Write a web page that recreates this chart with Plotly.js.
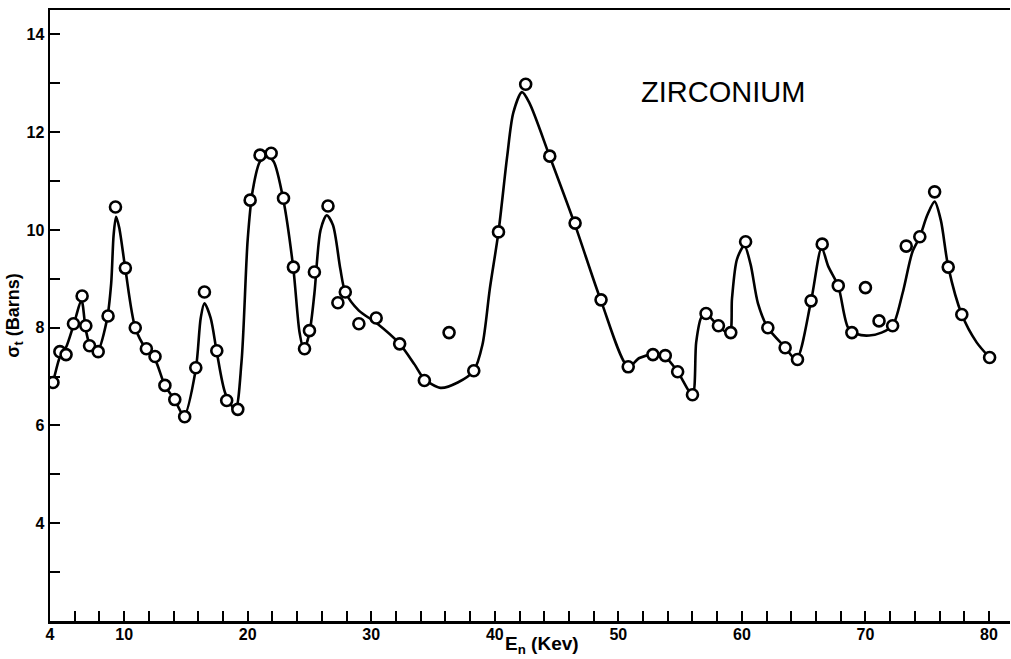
<!DOCTYPE html>
<html>
<head>
<meta charset="utf-8">
<script src="https://cdn.plot.ly/plotly-3.0.1.min.js"></script>
<style>
html,body{margin:0;padding:0;background:#fff;}
#chart{width:1011px;height:659px;}
</style>
</head>
<body>
<div id="chart"></div>
<script>
// Measured points: neutron energy (keV) and total cross section (barns)
var energy = [4.24,4.8,5.3,5.9,6.6,6.9,7.2,7.9,8.7,9.3,10.1,10.9,11.8,12.5,13.3,14.1,14.9,15.8,16.5,17.5,18.3,19.2,20.2,21.0,21.9,22.9,23.7,24.6,25.0,25.4,26.5,27.3,27.9,29.0,30.4,32.3,34.3,36.3,38.3,40.3,42.5,44.45,46.5,48.6,50.8,52.8,53.8,54.8,56.0,57.1,58.1,59.1,60.3,62.1,63.5,64.5,65.6,66.5,67.8,68.9,70.0,71.1,72.2,73.3,74.4,75.6,76.7,77.8,80.05];
var sigma = [6.88,7.51,7.45,8.08,8.65,8.04,7.63,7.51,8.24,10.47,9.22,8.0,7.57,7.41,6.82,6.53,6.18,7.18,8.73,7.53,6.51,6.33,10.61,11.53,11.57,10.65,9.24,7.57,7.94,9.14,10.49,8.51,8.73,8.08,8.2,7.67,6.92,7.90,7.12,9.96,12.98,11.51,10.14,8.57,7.20,7.45,7.43,7.10,6.63,8.29,8.04,7.90,9.76,8.0,7.59,7.35,8.55,9.71,8.86,7.90,8.82,8.14,8.04,9.67,9.86,10.78,9.24,8.27,7.39];

// Hand-drawn smooth curve
var curveEnergy = [4.05,4.24,4.8,5.3,5.9,6.55,6.9,7.3,7.8,8.6,8.95,9.15,9.35,9.6,10.1,10.9,11.8,12.5,13.3,14.1,14.85,15.8,16.2,16.5,17.0,17.5,18.2,19.0,19.5,20.0,20.4,21.0,21.6,22.1,22.9,23.7,24.2,24.55,25.0,25.4,25.9,26.4,26.9,27.5,27.9,29.0,30.4,32.3,33.5,34.3,35.6,37.0,38.3,39.0,39.6,40.3,41.0,41.5,42.2,42.8,44.45,46.5,48.6,50.8,51.7,52.8,53.8,54.8,56.0,56.3,56.7,57.1,58.1,59.0,59.2,59.6,60.2,60.7,61.3,62.1,63.5,64.4,65.6,66.45,67.0,67.8,68.6,69.3,70.3,71.3,72.2,73.0,73.8,74.4,75.0,75.6,76.1,76.7,77.8,79.0,80.05];
var curveSigma = [6.8,6.9,7.4,7.6,8.05,8.55,7.95,7.6,7.5,8.15,8.9,9.9,10.27,10.05,9.2,8.0,7.55,7.35,6.82,6.52,6.2,7.15,8.2,8.5,8.2,7.5,6.65,6.33,7.3,9.8,10.8,11.4,11.5,11.4,10.6,9.2,7.9,7.55,7.9,8.7,10.0,10.3,10.1,9.2,8.73,8.35,8.1,7.67,7.25,6.95,6.77,6.88,7.12,7.65,8.8,9.96,11.5,12.4,12.82,12.6,11.5,10.1,8.55,7.2,7.38,7.45,7.4,7.1,6.63,7.7,8.2,8.28,8.03,7.88,8.6,9.4,9.68,9.3,8.5,8.0,7.6,7.35,8.55,9.63,9.25,8.85,8.0,7.87,7.84,7.9,8.04,8.7,9.55,9.86,10.3,10.58,10.2,9.25,8.27,7.7,7.39];

var xTickVals = [4,10,20,30,40,50,60,70,80];
var xTickText = ["4","10","20","30","40","50","60","70","80"];
var yTickVals = [4,6,8,10,12,14];
var yTickText = ["4","6","8","10","12","14"];
var chartLabel = "ZIRCONIUM";
var xTitle = "E<sub>n</sub> (Kev)";
var yTitle = "σ<sub>t</sub> (Barns)";

var traces = [
  {
    x: curveEnergy, y: curveSigma, type: "scatter", mode: "lines",
    line: {color: "#000", width: 2.6, shape: "spline", smoothing: 0.8},
    hoverinfo: "skip", showlegend: false
  },
  {
    x: energy, y: sigma, type: "scatter", mode: "markers",
    marker: {symbol: "circle", size: 11, color: "#fff", line: {color: "#000", width: 2.6}},
    showlegend: false
  }
];

var fam = "Liberation Sans, Arial, sans-serif";
var tickFont = {family: fam, size: 16, color: "#000", weight: "bold"};

var layout = {
  width: 1011, height: 659,
  paper_bgcolor: "#fff", plot_bgcolor: "#fff",
  margin: {l: 50, r: 1, t: 10, b: 38},
  showlegend: false,
  xaxis: {
    range: [4, 81.7], showgrid: false, zeroline: false,
    showline: true, linecolor: "#000", linewidth: 2.5, mirror: true,
    tickmode: "array", tickvals: xTickVals, ticktext: xTickText,
    ticks: "inside", ticklen: 10, tickwidth: 2, tickcolor: "#000",
    minor: {dtick: 2, tick0: 0, ticks: "inside", ticklen: 10, tickwidth: 2, tickcolor: "#000", showgrid: false},
    tickfont: tickFont, ticklabelstandoff: -3,
    automargin: false
  },
  yaxis: {
    range: [2, 14.5], showgrid: false, zeroline: false,
    showline: true, linecolor: "#000", linewidth: 2.5, mirror: false,
    tickmode: "array", tickvals: yTickVals, ticktext: yTickText,
    ticks: "inside", ticklen: 10, tickwidth: 2, tickcolor: "#000",
    minor: {dtick: 1, tick0: 0, ticks: "inside", ticklen: 10, tickwidth: 2, tickcolor: "#000", showgrid: false},
    tickfont: tickFont, ticklabelstandoff: 0,
    title: {text: yTitle, font: {family: fam, size: 18, color: "#000", weight: "bold"}, standoff: 2},
    automargin: false
  },
  annotations: [
    {text: chartLabel, xref: "x", yref: "y", x: 58.5, y: 12.82, xanchor: "center", yanchor: "middle", showarrow: false,
     font: {family: fam, size: 29, color: "#000"}},
    {text: xTitle, xref: "paper", yref: "paper", x: 0.512, y: -0.062, xanchor: "center", yanchor: "bottom", showarrow: false,
     font: {family: fam, size: 19, color: "#000", weight: "bold"}}
  ]
};

Plotly.newPlot("chart", traces, layout, {displayModeBar: false, staticPlot: true});
</script>
</body>
</html>
